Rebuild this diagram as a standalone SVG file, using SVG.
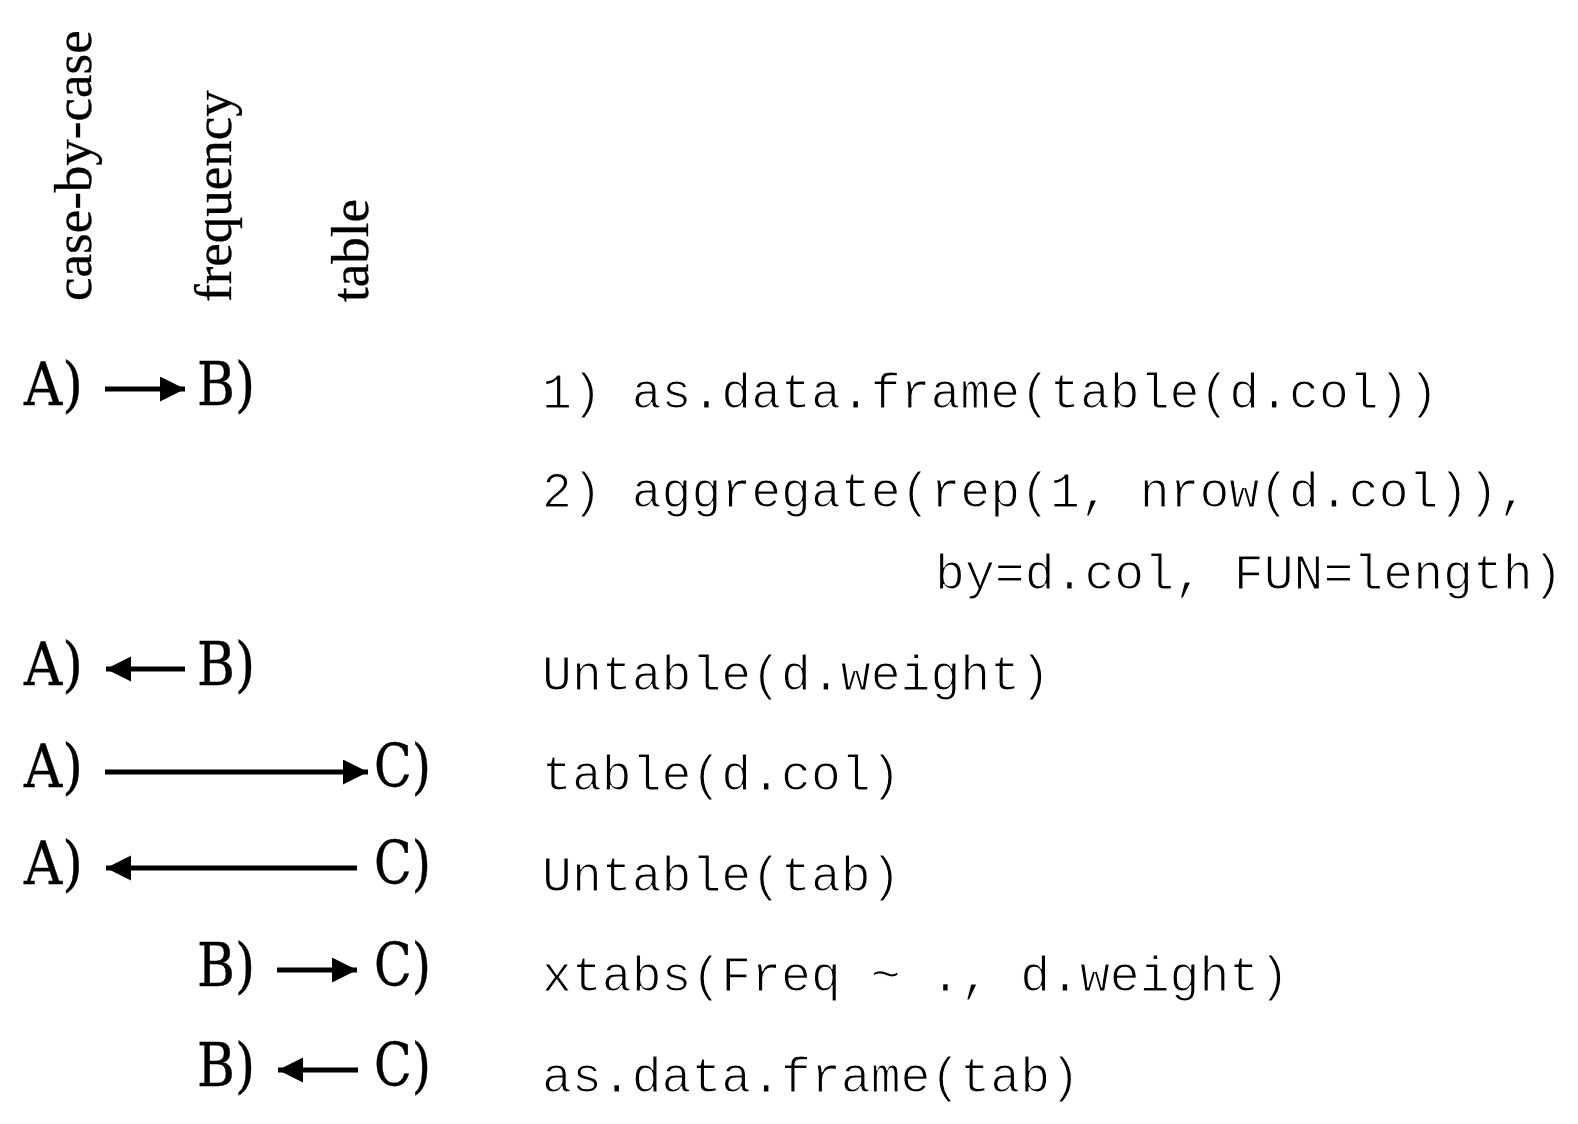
<svg xmlns="http://www.w3.org/2000/svg" width="1578" height="1124" viewBox="0 0 1578 1124">
<style>
  .lbl { font-family: "Liberation Serif", "Times New Roman", serif; font-size: 53px; fill: #000; stroke: #000; stroke-width: 0.3; }
  .node { font-family: "DejaVu Serif", "Liberation Serif", serif; font-size: 60px; fill: #000; stroke: #000; stroke-width: 0.4; }
  .code { font-family: "Liberation Mono", "Courier New", monospace; font-size: 49.8px; fill: #000; stroke: #fff; stroke-width: 1.2; }
  .conn { stroke: #000; stroke-width: 5; fill: none; }
</style>
<defs>
  <marker id="ah" markerUnits="userSpaceOnUse" markerWidth="26" markerHeight="26" refX="25" refY="12.5" orient="auto">
    <path d="M0,0 L25,12.5 L0,25 Z" fill="#000"/>
  </marker>
</defs>
<rect width="1578" height="1124" fill="#fff"/>
<g id="headers">
  <text class="lbl" transform="translate(91,301) rotate(-90)">case-by-case</text>
  <text class="lbl" transform="translate(231,302) rotate(-90)">frequency</text>
  <text class="lbl" transform="translate(368,302) rotate(-90)">table</text>
</g>
<g id="row1">
  <text class="node" x="24" y="405" textLength="59" lengthAdjust="spacingAndGlyphs">A)</text>
  <text class="node" x="197" y="405" textLength="58" lengthAdjust="spacingAndGlyphs">B)</text>
  <text class="code" x="542" y="408">1) as.data.frame(table(d.col))</text>
</g>
<g id="row2">
  <text class="code" x="542" y="507">2) aggregate(rep(1, nrow(d.col)),</text>
  <text class="code" x="935" y="589">by=d.col, FUN=length)</text>
</g>
<g id="row3">
  <text class="node" x="24" y="685" textLength="59" lengthAdjust="spacingAndGlyphs">A)</text>
  <text class="node" x="197" y="685" textLength="58" lengthAdjust="spacingAndGlyphs">B)</text>
  <text class="code" x="542" y="690">Untable(d.weight)</text>
</g>
<g id="row4">
  <text class="node" x="24" y="787" textLength="59" lengthAdjust="spacingAndGlyphs">A)</text>
  <text class="node" x="374" y="787" textLength="57" lengthAdjust="spacingAndGlyphs">C)</text>
  <text class="code" x="542" y="790">table(d.col)</text>
</g>
<g id="row5">
  <text class="node" x="24" y="884" textLength="59" lengthAdjust="spacingAndGlyphs">A)</text>
  <text class="node" x="374" y="884" textLength="57" lengthAdjust="spacingAndGlyphs">C)</text>
  <text class="code" x="542" y="891">Untable(tab)</text>
</g>
<g id="row6">
  <text class="node" x="197" y="986" textLength="58" lengthAdjust="spacingAndGlyphs">B)</text>
  <text class="node" x="374" y="986" textLength="57" lengthAdjust="spacingAndGlyphs">C)</text>
  <text class="code" x="542" y="991">xtabs(Freq ~ ., d.weight)</text>
</g>
<g id="row7">
  <text class="node" x="197" y="1086" textLength="58" lengthAdjust="spacingAndGlyphs">B)</text>
  <text class="node" x="374" y="1086" textLength="57" lengthAdjust="spacingAndGlyphs">C)</text>
  <text class="code" x="542" y="1092">as.data.frame(tab)</text>
</g>
<g id="connectors">
  <line class="conn" x1="105" y1="389" x2="185" y2="389" marker-end="url(#ah)"/>
  <line class="conn" x1="185" y1="669" x2="106" y2="669" marker-end="url(#ah)"/>
  <line class="conn" x1="105" y1="772" x2="368" y2="772" marker-end="url(#ah)"/>
  <line class="conn" x1="357" y1="868" x2="106" y2="868" marker-end="url(#ah)"/>
  <line class="conn" x1="277" y1="970" x2="357" y2="970" marker-end="url(#ah)"/>
  <line class="conn" x1="358" y1="1070" x2="278" y2="1070" marker-end="url(#ah)"/>
</g>
</svg>
